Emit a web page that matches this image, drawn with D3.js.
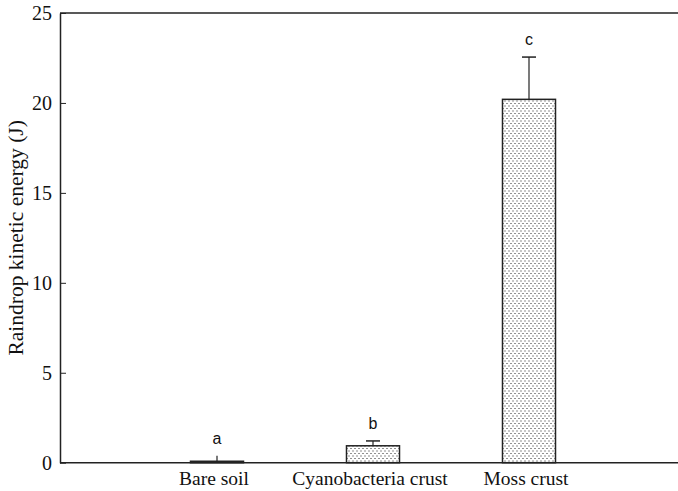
<!DOCTYPE html>
<html><head><meta charset="utf-8">
<script src="https://cdn.jsdelivr.net/npm/d3@7"></script>
<style>body{margin:0;background:#fff}svg{display:block}</style>
</head><body>
<script>
const categories = ["Bare soil", "Cyanobacteria crust", "Moss crust"];
const values = [0.08, 0.94, 20.2];
const errors = [0.3, 0.27, 2.35];
const letters = ["a", "b", "c"];
const yTicks = [0, 5, 10, 15, 20, 25];

const W = 678, H = 491;
const svg = d3.select("body").append("svg").attr("width", W).attr("height", H);
const defs = svg.append("defs");
const pat = defs.append("pattern").attr("id", "dots").attr("patternUnits", "userSpaceOnUse")
  .attr("width", 4).attr("height", 5);
pat.append("rect").attr("width", 4).attr("height", 5).attr("fill", "#fff");
pat.append("rect").attr("x", 0.5).attr("y", 0.5).attr("width", 1).attr("height", 1).attr("fill", "#222");
pat.append("rect").attr("x", 2.5).attr("y", 3).attr("width", 1).attr("height", 1).attr("fill", "#222");

const x0 = 60, yTop = 13, yBot = 462.7;
const y = d3.scaleLinear().domain([0, 25]).range([yBot, yTop]);
const x = d3.scaleLinear().domain([0, 4]).range([61, 61 + 4 * 156]);
const barW = 53;
const serif = "Liberation Serif, Times New Roman, serif";

// top border
svg.append("line").attr("x1", x0).attr("x2", W).attr("y1", yTop).attr("y2", yTop)
  .attr("stroke", "#222").attr("stroke-width", 1.5);

// y axis
const yAxis = d3.axisLeft(y).tickValues(yTicks).tickSizeInner(-6).tickSizeOuter(0).tickPadding(8);
const gy = svg.append("g").attr("transform", `translate(${x0},0)`).call(yAxis);
gy.select(".domain").attr("stroke", "#222").attr("stroke-width", 1.5);
gy.selectAll(".tick line").attr("stroke", "#222").attr("stroke-width", 1);
gy.selectAll(".tick text").attr("font-family", serif)
  .attr("font-size", 20).attr("fill", "#111");

// bars
const g = svg.append("g");
categories.forEach((c, i) => {
  const cx = x(i + 1);
  const top = y(values[i]);
  const eTop = y(values[i] + errors[i]);
  g.append("line").attr("x1", cx).attr("x2", cx).attr("y1", top).attr("y2", eTop)
    .attr("stroke", "#222").attr("stroke-width", 1.2);
  if (values[i] > 0.5) {
    g.append("line").attr("x1", cx - 7).attr("x2", cx + 7).attr("y1", eTop).attr("y2", eTop)
      .attr("stroke", "#222").attr("stroke-width", 1.5);
  }
  g.append("rect").attr("x", cx - barW / 2).attr("y", top).attr("width", barW)
    .attr("height", Math.max(yBot - top, 0.5)).attr("fill", "url(#dots)")
    .attr("stroke", "#222").attr("stroke-width", 1.5);
  g.append("text").attr("x", cx).attr("y", eTop - 12).attr("text-anchor", "middle")
    .attr("font-family", "Liberation Sans, Arial, sans-serif").attr("font-size", 16)
    .attr("fill", "#111").text(letters[i]);
  svg.append("text").attr("x", cx - 3).attr("y", 485).attr("text-anchor", "middle")
    .attr("font-family", serif).attr("font-size", 19.5)
    .attr("fill", "#111").text(c);
});

// x axis line
svg.append("line").attr("x1", x0).attr("x2", W).attr("y1", yBot).attr("y2", yBot)
  .attr("stroke", "#222").attr("stroke-width", 1.5);

// y label
svg.append("text").attr("transform", `translate(23,${(yTop + yBot) / 2}) rotate(-90)`)
  .attr("text-anchor", "middle").attr("font-family", serif)
  .attr("font-size", 21.5).attr("fill", "#111").text("Raindrop kinetic energy (J)");
</script>
</body></html>
